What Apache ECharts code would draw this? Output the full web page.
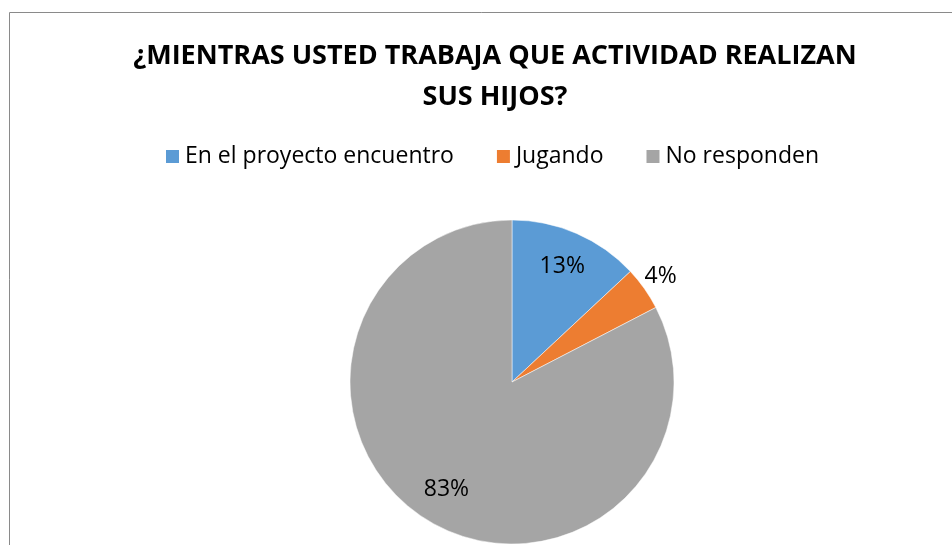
<!DOCTYPE html>
<html>
<head>
<meta charset="utf-8">
<script src="https://cdn.jsdelivr.net/npm/echarts@6/dist/echarts.min.js"></script>
<style>
  html, body { margin: 0; padding: 0; background: #fff; }
  #chart { width: 952px; height: 545px; }
</style>
</head>
<body>
<div id="chart"></div>
<script>
// 数据
const titleText = '¿MIENTRAS USTED TRABAJA QUE ACTIVIDAD REALIZAN\nSUS HIJOS?';
const categories = ['En el proyecto encuentro', 'Jugando', 'No responden'];
const counts = [3, 1, 19];
const colors = ['#5B9BD5', '#ED7D31', '#A5A5A5'];

const FONT = '"Open Sans", "Noto Sans", sans-serif';
const R = 162;

function pctLabel(p) {
  return Math.round(p.percent) + '%';
}

const chart = echarts.init(document.getElementById('chart'));
chart.setOption({
  backgroundColor: '#fff',
  animation: false,
  title: {
    text: titleText,
    left: 490,
    top: 31,
    textAlign: 'center',
    textStyle: { fontFamily: FONT, fontWeight: 'bold', fontSize: 27, lineHeight: 41, color: '#000' }
  },
  legend: {
    data: categories,
    left: 159,
    top: 140,
    itemWidth: 15,
    itemHeight: 15,
    itemGap: 41,
    icon: 'rect',
    textStyle: { fontFamily: FONT, fontSize: 23, color: '#000' }
  },
  graphic: [{
    type: 'rect',
    shape: { x: 9.5, y: 12.5, width: 1000, height: 600 },
    style: { fill: 'none', stroke: '#8a8a8a', lineWidth: 1 },
    silent: true
  }],
  series: [
    {
      name: 'main',
      type: 'pie',
      center: [512, 382],
      radius: [0, R],
      startAngle: 90,
      clockwise: true,
      data: categories.map((c, i) => ({
        name: c,
        value: counts[i],
        itemStyle: { color: colors[i] },
        label: { show: i === 1, offset: [-8, -10] }
      })),
      itemStyle: { borderColor: '#fff', borderWidth: 0.5 },
      label: {
        position: 'outside',
        formatter: pctLabel,
        fontFamily: FONT,
        fontSize: 23,
        color: '#000'
      },
      labelLine: { show: false, length: 4, length2: 0 },
      emphasis: { disabled: true }
    },
    {
      // 只用于放置扇区内标签
      name: 'labels',
      type: 'pie',
      center: [512, 382],
      radius: [0, R * 1.52],
      startAngle: 90,
      clockwise: true,
      silent: true,
      legendHoverLink: false,
      data: categories.map((c, i) => ({
        name: c,
        value: counts[i],
        itemStyle: { color: 'rgba(0,0,0,0)' },
        label: { show: i !== 1 }
      })),
      label: {
        position: 'inside',
        formatter: pctLabel,
        fontFamily: FONT,
        fontSize: 23,
        color: '#000'
      },
      labelLine: { show: false },
      emphasis: { disabled: true }
    }
  ]
});
</script>
</body>
</html>
